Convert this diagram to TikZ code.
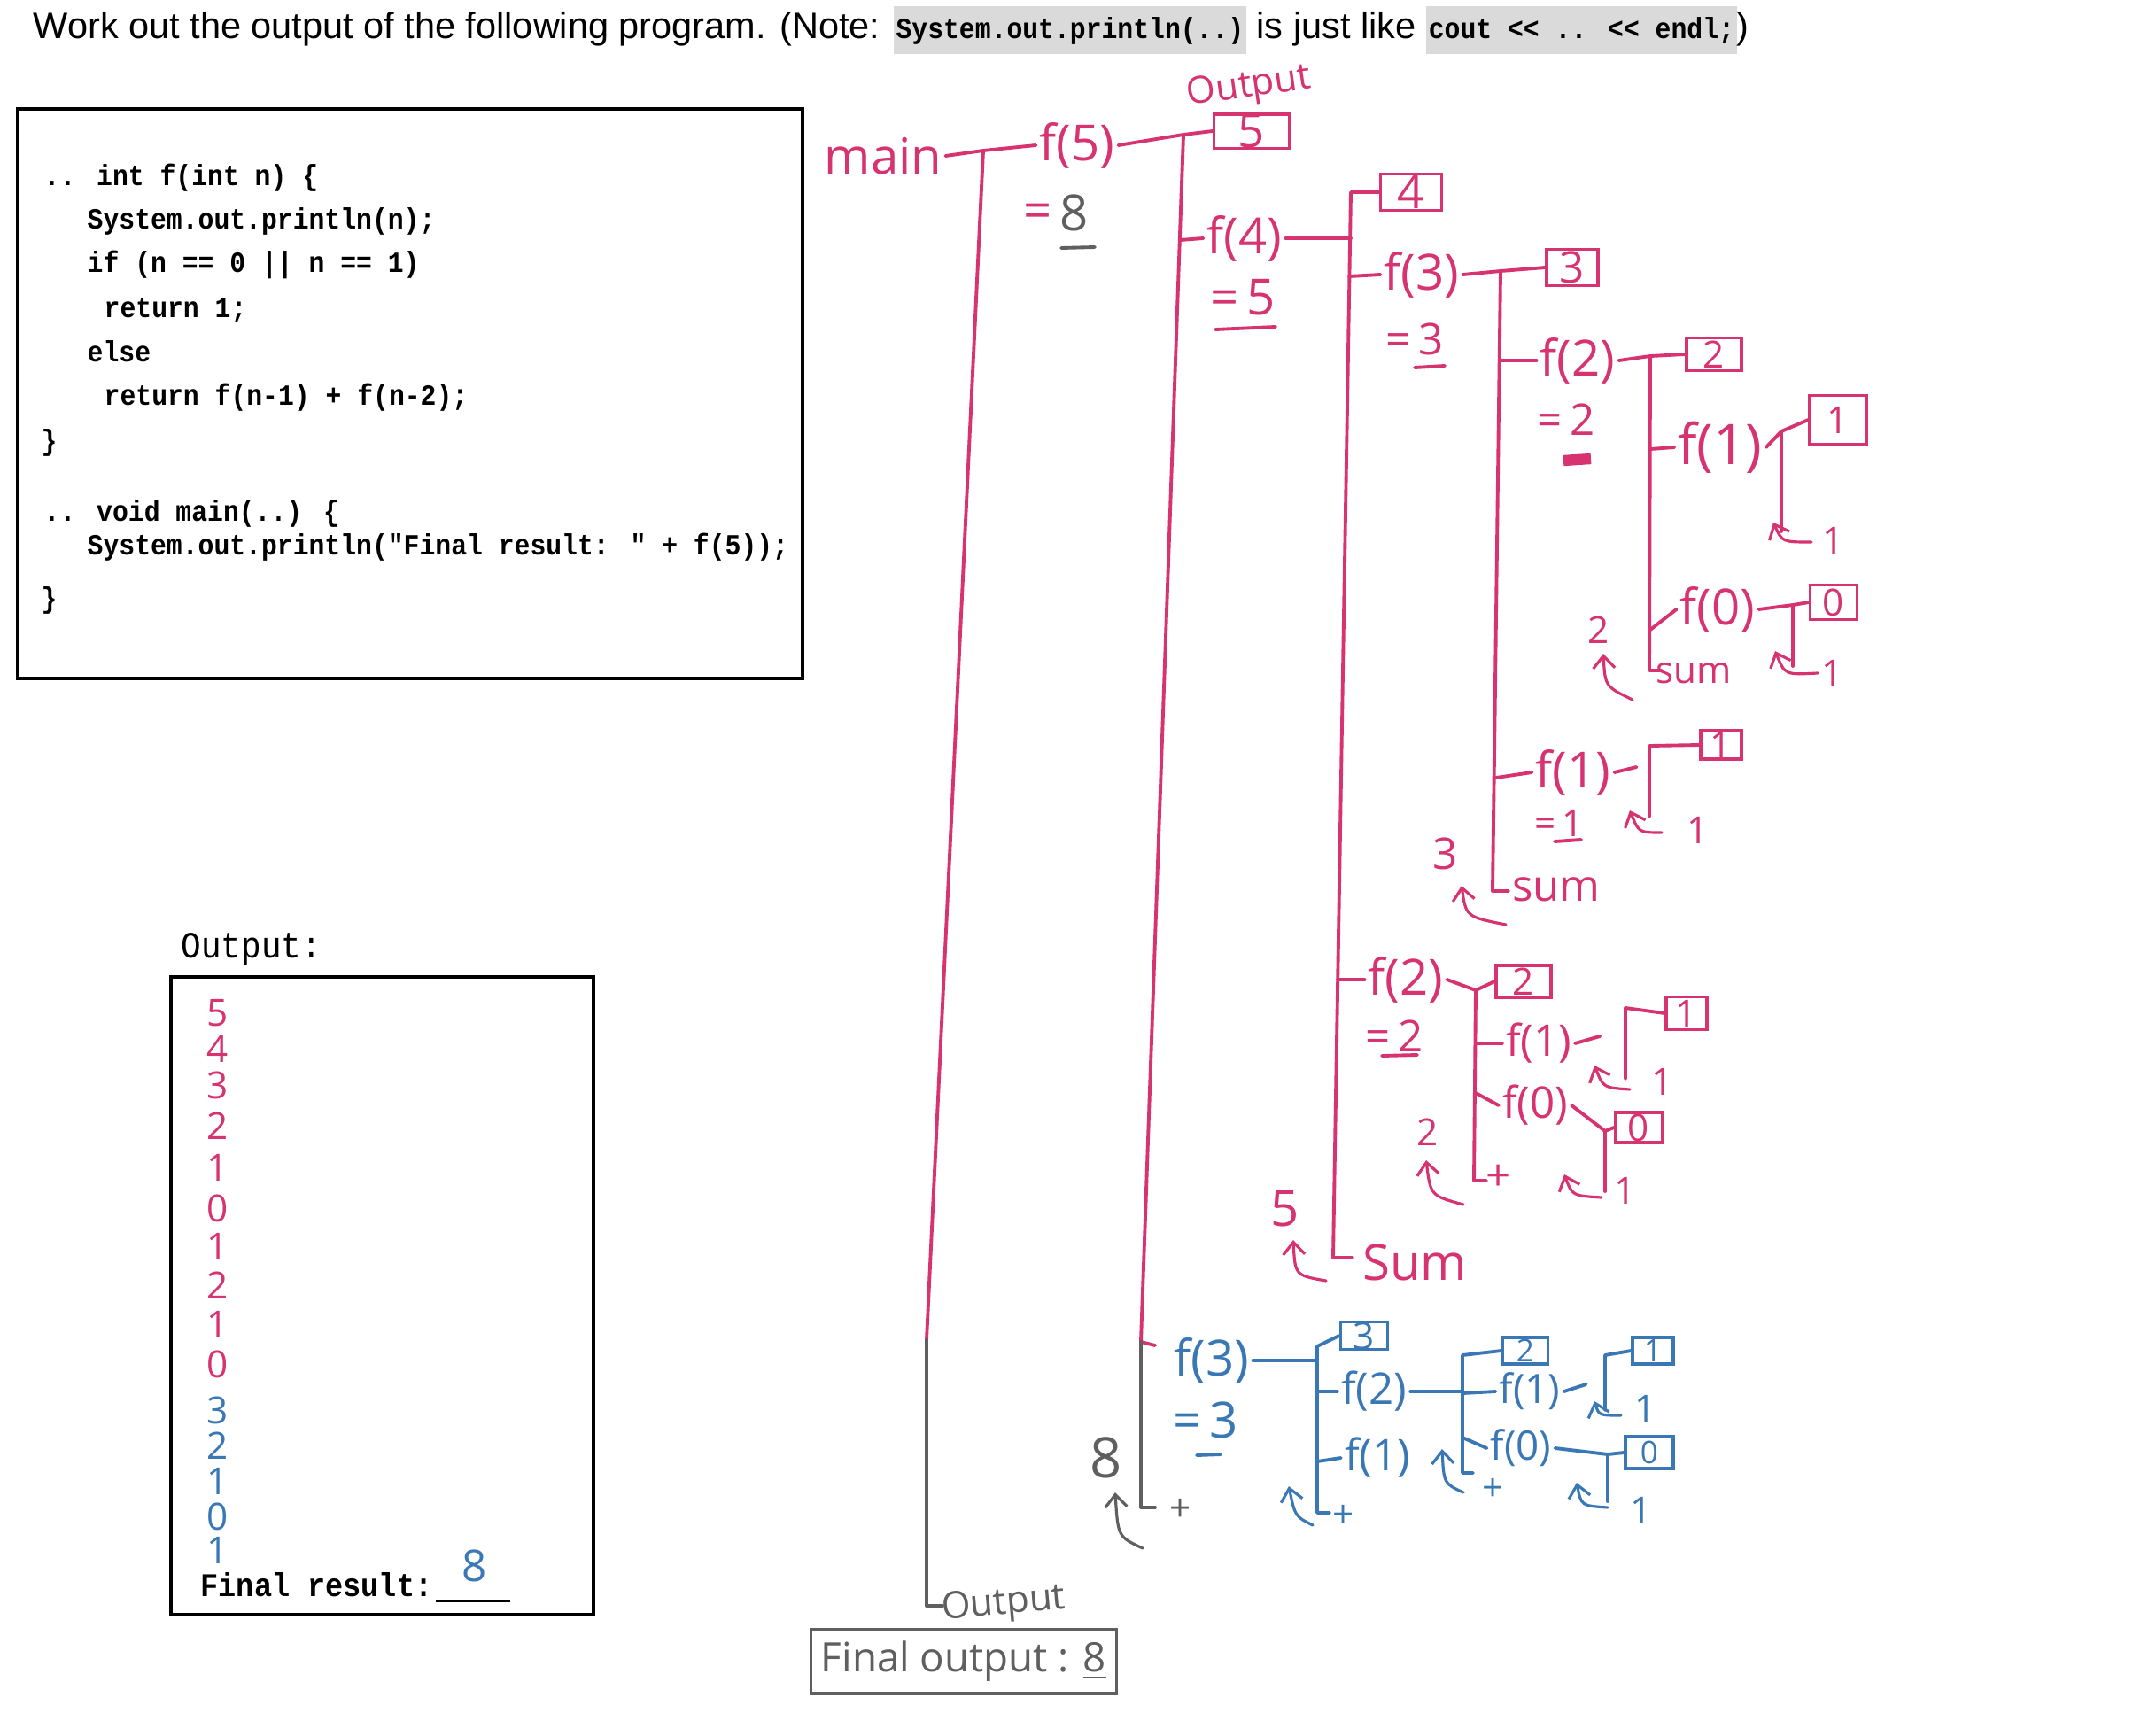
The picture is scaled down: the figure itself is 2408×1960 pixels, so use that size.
\documentclass[tikz,border=0pt]{standalone}
\usepackage{fontspec}
\setmainfont{Liberation Sans}
\newfontfamily\codefont[FakeStretch=0.9]{Liberation Mono}
\newfontfamily\handfont{Open Sans}
\usetikzlibrary{arrows.meta}
\definecolor{inkpink}{RGB}{214,51,112}
\definecolor{inkblue}{RGB}{58,120,181}
\definecolor{pencil}{RGB}{95,95,95}
\definecolor{codegray}{RGB}{218,218,218}
\newcommand{\codebg}[1]{{\setlength{\fboxsep}{0.8pt}\colorbox{codegray}{\strut\codefont\bfseries\fontsize{9.4}{11}\selectfont #1}}}
\tikzset{
  ink/.style={line width=1.1pt, line cap=round, line join=round},
  hand/.style={font=\handfont\fontsize{16}{18}\selectfont, inner sep=1pt},
  handmid/.style={font=\handfont\fontsize{14}{16}\selectfont, inner sep=1pt},
  handsmall/.style={font=\handfont\fontsize{12}{14}\selectfont, inner sep=1pt},
  valbox/.style={draw, line width=0.9pt, inner sep=0pt, font=\handfont\fontsize{12}{12}\selectfont},
  codeline/.style={anchor=mid west, inner sep=0pt},
  back/.style={-{Straight Barb[length=4pt,width=7pt]}, line width=0.9pt, line cap=round},
}
\begin{document}
\begin{tikzpicture}[x=0.01cm, y=-0.01cm]
    \useasboundingbox (0,0) rectangle (2408,1960);
    % question
    \node[anchor=west, inner sep=0pt, font=\fontsize{11.8}{14}\selectfont] (title) at (37,34)
        {Work out the output of the following program. (Note: \codebg{System.out.println(..)} is just like \codebg{cout <\kern0pt< .. <\kern0pt< endl;})};
    % program
    \draw[line width=1.4pt] (20,123) rectangle (906,766);
    \begin{scope}[font=\codefont\bfseries\fontsize{9.4}{11}\selectfont]
        \node[codeline] (c1) at (49,200) {.. int f(int n) \{};
        \node[codeline] (c2) at (98,249) {System.out.println(n);};
        \node[codeline] (c3) at (98,298) {if (n == 0 || n == 1)};
        \node[codeline] (c4) at (117,349) {return 1;};
        \node[codeline] (c5) at (98,399) {else};
        \node[codeline] (c6) at (117,448) {return f(n-1) + f(n-2);};
        \node[codeline] (c7) at (46,499) {\}};
        \node[codeline] (c8) at (49,579) {.. void main(..) \{};
        \node[codeline] (c9) at (98,617) {System.out.println("Final result: " + f(5));};
        \node[codeline] (c10) at (46,677) {\}};
    \end{scope}
    % output panel
    \node[codeline, font=\codefont\fontsize{11.9}{13}\selectfont] (outlabel) at (204,1072) {Output:};
    \draw[line width=0.9pt] (193,1103) rectangle (670,1823);
    \begin{scope}[inkpink]
        \node[handsmall] (o1) at (246,1144) {5};
        \node[handsmall] (o2) at (246,1184) {4};
        \node[handsmall] (o3) at (246,1225) {3};
        \node[handsmall] (o4) at (246,1271) {2};
        \node[handsmall] (o5) at (246,1318) {1};
        \node[handsmall] (o6) at (246,1364) {0};
        \node[handsmall] (o7) at (246,1407) {1};
        \node[handsmall] (o8) at (246,1451) {2};
        \node[handsmall] (o9) at (246,1495) {1};
        \node[handsmall] (o10) at (246,1540) {0};
    \end{scope}
    \begin{scope}[inkblue]
        \node[handsmall] (o11) at (246,1592) {3};
        \node[handsmall] (o12) at (246,1632) {2};
        \node[handsmall] (o13) at (246,1672) {1};
        \node[handsmall] (o14) at (246,1712) {0};
        \node[handsmall] (o15) at (246,1750) {1};
        \node[handmid] (res) at (536,1768) {8};
    \end{scope}
    \node[codeline, font=\codefont\bfseries\fontsize{10.6}{12}\selectfont] (final) at (226,1793) {Final result:};
    \draw[line width=0.8pt] (final.east |- 0,1808) ++(3,0) -- (576,1808);
    % call tree, first pen
    \begin{scope}[inkpink]
        \node[hand] (main) at (997,176) {main};
        \node[hand] (f5) at (1216,164) {f(5)};
        \node[hand] (eq8) at (1172,244) {=};
        \node[valbox, minimum width=0.85cm, minimum height=0.37cm, font=\handfont\fontsize{15}{15}\selectfont] (b5) at (1413,148) {5};
        \node[handsmall, rotate=8] (outtop) at (1410,99) {Output};
        \coordinate (mainT) at (1110,170);
        \coordinate (mainB) at (1046,1513);
        \coordinate (f5T) at (1336,152);
        \coordinate (f5B) at (1288,1515);
        \draw[ink] (main.east) -- (mainT) -- (f5.west);
        \draw[ink] (mainT) -- (mainB);
        \draw[ink] (f5.east) -- (f5T) -- (b5.west);
        \draw[ink] (f5T) -- (f5B) -- +(16,4);
        % f(4)
        \node[hand] (f4) at (1405,269) {f(4)};
        \node[hand] (eq5) at (1403,336) {=\,5};
        \draw[ink] (1372,372) -- (1440,369);
        \node[valbox, minimum width=0.69cm, minimum height=0.41cm, font=\handfont\fontsize{15}{15}\selectfont] (b4) at (1593,217) {4};
        \coordinate (f4T) at (1525,217);
        \coordinate (f4B) at (1505,1420);
        \draw[ink] (1332,271) -- (f4.west);
        \draw[ink] (f4.east) -- (f4.east -| f4T);
        \draw[ink] (b4.west) -- (f4T) -- (f4B) -- +(22,0);
        \node[hand] (sum4) at (1597,1425) {Sum};
        \node[hand] (r4) at (1451,1365) {5};
        \draw[back] (1497,1446) .. controls (1462,1440) .. (1460,1400);
        % f(3)
        \node[hand] (f3) at (1605,310) {f(3)};
        \node[handmid] (eq3) at (1597,383) {=\,3};
        \draw[ink] (1597,415) -- (1631,413);
        \node[valbox, minimum width=0.58cm, minimum height=0.41cm, font=\handfont\fontsize{14}{14}\selectfont] (b3) at (1775,302) {3};
        \coordinate (f3T) at (1694,306);
        \coordinate (f3B) at (1685,1006);
        \draw[ink] (1523,312) -- (f3.west);
        \draw[ink] (f3.east) -- (f3T) -- (b3.west);
        \draw[ink] (f3T) -- (f3B) -- +(18,0);
        \node[handmid] (sum3) at (1757,1004) {sum};
        \node[handmid] (r3) at (1632,964) {3};
        \draw[back] (1700,1044) .. controls (1655,1035) .. (1650,1000);
        % f(2) of f(3)
        \node[hand] (f2a) at (1781,407) {f(2)};
        \node[handmid] (eq2a) at (1768,474) {=\,2};
        \draw[line width=3.5pt] (1765,520) -- (1796,518);
        \node[valbox, minimum width=0.62cm, minimum height=0.37cm] (b2a) at (1935,400) {2};
        \coordinate (f2aT) at (1863,402);
        \coordinate (f2aB) at (1862,757);
        \draw[ink] (1693,407) -- (f2a.west);
        \draw[ink] (f2a.east) -- (f2aT) -- (b2a.west);
        \draw[ink] (f2aT) -- (f2aB) -- +(14,0);
        \node[handsmall] (sum2a) at (1912,760) {sum};
        \node[handsmall] (r2a) at (1805,711) {2};
        \draw[back] (1843,790) .. controls (1812,775) .. (1810,738);
        \node[hand, font=\handfont\fontsize{18}{20}\selectfont] (f1a) at (1942,505) {f(1)};
        \node[valbox, minimum width=0.64cm, minimum height=0.55cm] (b1a) at (2075,474) {1};
        \coordinate (f1aT) at (2011,487);
        \coordinate (f1aB) at (2011,600);
        \draw[ink] (1863,507) -- (f1a.west);
        \draw[ink] (f1a.east) -- (f1aT) -- (b1a.west);
        \draw[ink] (f1aT) -- (f1aB);
        \draw[back] (2045,612) .. controls (2012,612) .. (2002,590);
        \node[handsmall] (r1a) at (2070,610) {1};
        \node[hand] (f0a) at (1939,688) {f(0)};
        \node[valbox, minimum width=0.53cm, minimum height=0.39cm] (b0a) at (2070,680) {0};
        \coordinate (f0aT) at (2024,683);
        \coordinate (f0aB) at (2024,752);
        \draw[ink] (1863,711) -- (f0a.west);
        \draw[ink] (f0a.east) -- (f0aT) -- (b0a.west);
        \draw[ink] (f0aT) -- (f0aB);
        \draw[back] (2052,760) .. controls (2015,762) .. (2004,735);
        \node[handsmall] (r0a) at (2069,760) {1};
        % f(1) of f(3)
        \node[hand] (f1b) at (1776,872) {f(1)};
        \node[handsmall] (eq1b) at (1760,929) {=\,1};
        \draw[ink] (1755,950) -- (1785,948);
        \node[valbox, minimum width=0.46cm, minimum height=0.32cm] (b1b) at (1943,841) {1};
        \coordinate (f1bT) at (1862,842);
        \coordinate (f1bB) at (1862,922);
        \draw[ink] (1689,878) -- (f1b.west);
        \draw[ink] (f1b.east) -- +(25,-6);
        \draw[ink] (b1b.west) -- (f1bT) -- (f1bB);
        \draw[back] (1876,940) .. controls (1850,940) .. (1840,915);
        \node[handsmall] (r1b) at (1917,937) {1};
        % f(2) of f(4)
        \node[hand] (f2b) at (1587,1106) {f(2)};
        \node[handmid] (eq2b) at (1574,1170) {=\,2};
        \draw[ink] (1560,1192) -- (1600,1191);
        \node[valbox, minimum width=0.62cm, minimum height=0.36cm] (b2b) at (1720,1108) {2};
        \coordinate (f2bT) at (1666,1118);
        \coordinate (f2bB) at (1664,1333);
        \draw[ink] (1510,1106) -- (f2b.west);
        \draw[ink] (f2b.east) -- (f2bT) -- (b2b.west);
        \draw[ink] (f2bT) -- (f2bB) -- +(14,0);
        \node[handmid] (plus2b) at (1692,1330) {+};
        \node[handsmall] (r2b) at (1612,1278) {2};
        \draw[back] (1652,1360) .. controls (1615,1350) .. (1610,1310);
        \node[handmid] (f1c) at (1737,1178) {f(1)};
        \node[valbox, minimum width=0.46cm, minimum height=0.37cm] (b1c) at (1904,1144) {1};
        \coordinate (f1cT) at (1835,1138);
        \coordinate (f1cB) at (1835,1218);
        \draw[ink] (1666,1178) -- (f1c.west);
        \draw[ink] (f1c.east) -- +(28,-8);
        \draw[ink] (b1c.west) -- (f1cT) -- (f1cB);
        \draw[back] (1840,1230) .. controls (1810,1228) .. (1800,1203);
        \node[handsmall] (r1c) at (1877,1221) {1};
        \node[handmid] (f0c) at (1733,1248) {f(0)};
        \node[valbox, minimum width=0.53cm, minimum height=0.34cm] (b0c) at (1850,1273) {0};
        \coordinate (f0cT) at (1812,1277);
        \coordinate (f0cB) at (1812,1345);
        \draw[ink] (1666,1234) -- (f0c.west);
        \draw[ink] (f0c.east) -- (f0cT) -- (b0c.west);
        \draw[ink] (f0cT) -- (f0cB);
        \draw[back] (1808,1352) .. controls (1775,1350) .. (1766,1326);
        \node[handsmall] (r0c) at (1835,1344) {1};
    \end{scope}
    % call tree, second pen
    \begin{scope}[inkblue]
        \node[hand] (f3b) at (1368,1536) {f(3)};
        \node[hand] (eq3b) at (1361,1603) {=\,3};
        \draw[ink] (1351,1643) -- (1378,1642);
        \node[valbox, minimum width=0.53cm, minimum height=0.3cm] (b3b) at (1540,1508) {3};
        \coordinate (f3bT) at (1487,1520);
        \coordinate (f3bB) at (1487,1708);
        \draw[ink] (f3b.east) -- (f3b.east -| f3bT);
        \draw[ink] (b3b.west) -- (f3bT) -- (f3bB) -- +(14,0);
        \node[handsmall] (plus3b) at (1517,1712) {+};
        \draw[back] (1482,1722) .. controls (1462,1712) .. (1455,1678);
        \node[handmid] (f2c) at (1551,1571) {f(2)};
        \node[valbox, minimum width=0.51cm, minimum height=0.3cm, font=\handfont\fontsize{10}{10}\selectfont] (b2c) at (1722,1525) {2};
        \coordinate (f2cT) at (1651,1530);
        \coordinate (f2cB) at (1651,1663);
        \draw[ink] (1487,1571) -- (f2c.west);
        \draw[ink] (f2c.east) -- (f2c.east -| f2cT);
        \draw[ink] (b2c.west) -- (f2cT) -- (f2cB) -- +(12,0);
        \node[handsmall] (plus2c) at (1686,1682) {+};
        \draw[back] (1652,1685) .. controls (1630,1675) .. (1628,1636);
        \node[handsmall, font=\handfont\fontsize{13}{15}\selectfont] (f1d) at (1727,1571) {f(1)};
        \node[valbox, minimum width=0.46cm, minimum height=0.3cm, font=\handfont\fontsize{10}{10}\selectfont] (b1d) at (1866,1525) {1};
        \coordinate (f1dT) at (1812,1530);
        \coordinate (f1dB) at (1812,1592);
        \draw[ink] (1651,1573) -- (f1d.west);
        \draw[ink] (f1d.east) -- +(25,-8);
        \draw[ink] (b1d.west) -- (f1dT) -- (f1dB);
        \draw[back] (1830,1598) .. controls (1805,1598) .. (1800,1582);
        \node[handsmall] (r1d) at (1858,1590) {1};
        \node[handsmall, font=\handfont\fontsize{13}{15}\selectfont] (f0d) at (1717,1635) {f(0)};
        \node[valbox, minimum width=0.54cm, minimum height=0.36cm, font=\handfont\fontsize{10}{10}\selectfont] (b0d) at (1862,1640) {0};
        \coordinate (f0dT) at (1815,1642);
        \coordinate (f0dB) at (1815,1695);
        \draw[ink] (1651,1623) -- (f0d.west);
        \draw[ink] (f0d.east) -- (f0dT) -- (b0d.west);
        \draw[ink] (f0dT) -- (f0dB);
        \draw[back] (1815,1702) .. controls (1785,1700) .. (1780,1674);
        \node[handsmall] (r0d) at (1853,1705) {1};
        \node[handmid] (f1e) at (1555,1646) {f(1)};
        \draw[ink] (1487,1650) -- (f1e.west);
    \end{scope}
    % pencil
    \begin{scope}[pencil]
        \node[hand] (v8) at (1213,240) {8};
        \draw[ink] (1198,280) -- (1236,279);
        \coordinate (mainO) at (1046,1813);
        \coordinate (f5O) at (1288,1702);
        \draw[ink] (mainB) -- (mainO) -- +(18,0);
        \node[handsmall, rotate=5] (outbot) at (1133,1812) {Output};
        \draw[ink] (f5B) -- (f5O) -- +(16,0);
        \node[handsmall] (plus5) at (1333,1705) {+};
        \node[hand, font=\handfont\fontsize{18}{20}\selectfont] (r5) at (1249,1646) {8};
        \draw[back] (1290,1748) .. controls (1262,1735) .. (1259,1685);
        \node[draw, line width=0.9pt, minimum width=3.43cm, minimum height=0.72cm, font=\handfont\fontsize{13}{15}\selectfont] (finalout) at (1088,1876) {Final output : \underline{8}};
    \end{scope}
\end{tikzpicture}
\end{document}
